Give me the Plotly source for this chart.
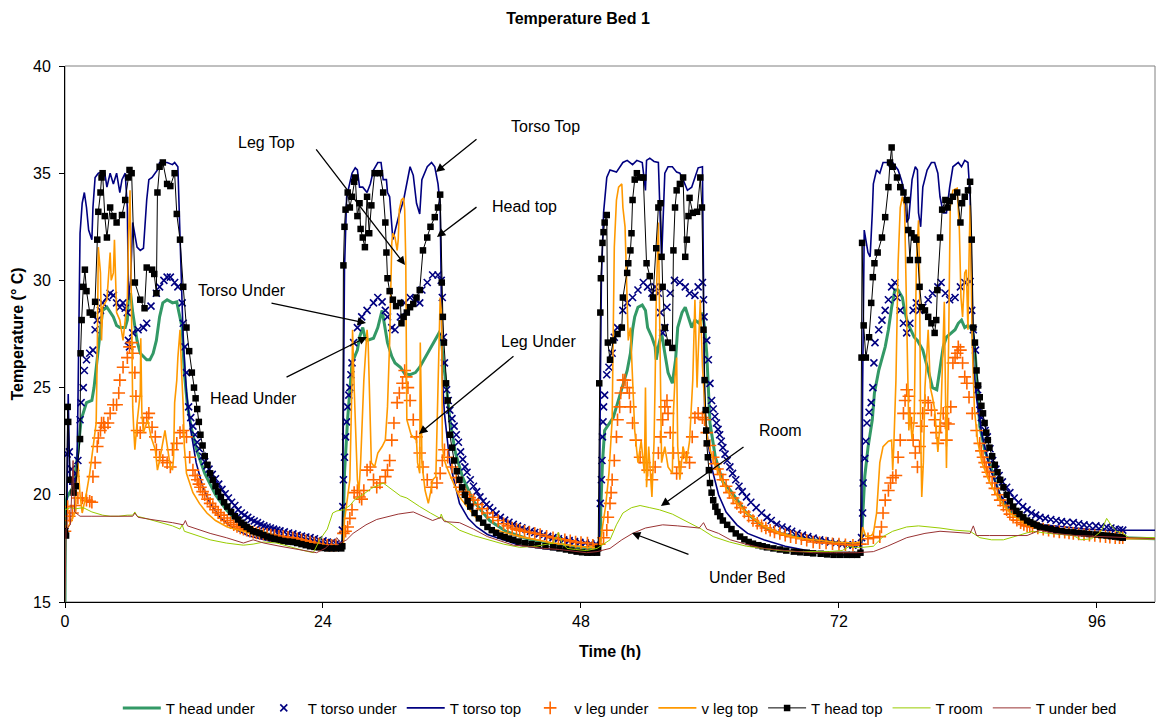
import plotly.graph_objects as go

# ---------------- data (time h, temperature °C) ----------------
HEAD_UNDER = [
    (0.0, 15.0), (0.05, 19.6), (0.2, 19.9), (0.8, 20.4), (1.2, 22.0), (1.5, 23.5), (2.0, 24.3), (2.5, 24.4),
    (2.7, 25.0), (3.0, 26.3), (3.3, 27.55), (3.5, 28.6), (3.9, 28.75), (4.2, 28.5), (4.5, 28.3), (4.8, 27.9),
    (5.1, 27.8), (5.6, 27.8), (5.8, 28.15), (5.9, 29.2), (6.1, 29.4), (6.3, 28.5), (6.7, 27.2), (7.0, 26.6),
    (7.6, 26.3), (7.9, 26.3), (8.2, 26.6), (8.5, 27.2), (8.8, 28.3), (9.1, 28.95), (9.5, 29.1), (10.0, 28.95),
    (10.4, 29.0), (10.6, 28.5), (10.9, 27.8), (11.1, 25.7), (11.4, 24.1), (11.8, 23.0), (12.3, 22.0), (13.0, 21.0),
    (14.0, 20.0), (15.0, 19.3), (16.0, 18.8), (17.5, 18.4), (19.0, 18.15), (21.0, 17.95), (23.0, 17.75), (25.0, 17.65),
    (25.8, 17.65), (25.85, 18.0), (26.0, 21.0), (26.3, 23.6), (26.7, 26.15), (27.2, 26.75), (27.4, 27.35), (27.7, 27.8),
    (27.9, 27.35), (28.1, 27.2), (28.7, 27.3), (29.1, 27.8), (29.5, 28.6), (29.8, 27.7), (30.0, 27.1), (30.4, 26.45),
    (30.7, 26.15), (31.2, 25.95), (31.6, 25.65), (32.1, 25.6), (32.6, 25.7), (33.0, 25.95), (33.5, 26.4), (34.0, 26.9),
    (34.4, 27.2), (34.8, 27.55), (35.0, 27.4), (35.2, 26.15), (35.5, 25.0), (35.8, 23.5), (36.3, 22.0), (37.0, 20.8),
    (38.0, 19.7), (39.5, 18.8), (41.0, 18.3), (43.0, 17.95), (45.5, 17.7), (48.0, 17.55), (49.7, 17.5),
    (49.8, 18.05), (49.85, 19.45), (50.0, 21.5), (50.2, 23.0), (50.7, 23.35), (51.0, 23.6), (51.3, 24.1), (51.8, 25.0),
    (52.3, 25.8), (52.6, 26.6), (52.8, 27.7), (53.0, 28.3), (53.3, 28.75), (53.7, 28.85), (54.0, 28.6), (54.2, 27.8),
    (54.6, 27.35), (54.9, 26.9), (55.0, 26.3), (55.2, 26.9), (55.5, 27.55), (55.8, 26.6), (56.1, 25.7), (56.5, 25.2),
    (56.8, 26.3), (57.0, 27.8), (57.4, 28.5), (57.7, 28.75), (58.0, 28.3), (58.3, 27.8), (58.6, 28.15), (59.0, 28.0),
    (59.3, 28.5), (59.5, 27.8), (59.7, 26.6), (59.85, 25.0), (60.0, 23.35), (60.5, 21.75), (61.2, 20.6), (61.9, 20.2),
    (63.4, 19.15), (65.0, 18.5), (66.5, 18.2), (69.6, 17.9), (72.0, 17.75), (74.0, 17.7),
    (74.1, 17.9), (74.4, 20.85), (74.7, 22.2), (75.1, 23.5), (75.3, 24.75), (75.7, 25.8), (76.0, 26.4), (76.3, 26.9),
    (76.6, 27.7), (76.9, 28.75), (77.2, 29.55), (77.5, 29.55), (77.9, 29.2), (78.1, 28.6), (78.4, 28.0), (78.8, 27.55),
    (79.0, 27.35), (79.3, 27.2), (79.8, 26.75), (80.3, 25.8), (80.7, 25.0), (81.1, 24.9), (81.4, 25.8), (81.7, 26.9),
    (82.0, 27.35), (82.5, 27.55), (82.8, 27.7), (83.1, 28.0), (83.4, 28.15), (83.7, 27.8), (84.0, 27.9), (84.4, 27.7),
    (84.7, 26.4), (85.1, 23.2), (85.6, 22.0), (86.0, 21.5), (87.0, 19.9), (88.0, 19.2), (89.0, 18.85), (90.7, 18.5),
    (93.0, 18.3), (96.0, 18.1), (98.4, 18.0), (101.4, 17.95),
]

TORSO_UNDER = [
    (0.0, 18.3), (0.2, 21.9), (0.4, 22.0), (0.6, 21.2), (0.8, 20.7), (1.0, 21.0), (1.2, 21.6), (1.4, 23.5),
    (1.5, 24.3), (1.7, 25.0), (1.8, 25.8), (2.0, 26.3), (2.3, 26.6), (2.6, 26.75), (2.8, 27.7), (3.0, 28.15),
    (3.3, 28.6), (3.5, 28.95), (3.9, 29.2), (4.2, 29.4), (4.5, 29.3), (4.8, 28.95), (5.1, 28.75), (5.4, 28.95),
    (5.6, 28.7), (5.8, 28.5), (5.9, 27.2), (6.0, 26.9), (6.3, 27.55), (6.8, 27.7), (7.3, 27.8), (7.6, 28.0),
    (8.0, 28.8), (8.5, 29.4), (8.8, 29.7), (9.2, 30.0), (9.5, 30.15), (9.8, 30.15), (10.2, 29.9), (10.5, 29.7),
    (10.9, 28.95), (11.0, 28.0), (11.15, 26.9), (11.3, 25.7),
    (11.5, 24.1), (11.7, 23.6), (11.9, 23.2), (12.1, 22.8), (12.3, 22.45), (12.5, 22.15), (12.8, 21.8), (13.0, 21.55),
    (13.2, 21.35), (13.4, 21.2), (13.7, 20.95), (14.0, 20.75), (14.3, 20.5), (14.6, 20.25), (14.9, 20.05), (15.2, 19.85),
    (15.5, 19.65), (15.8, 19.5), (16.1, 19.3), (16.4, 19.15), (16.7, 19.05), (17.0, 18.95), (17.3, 18.85), (17.6, 18.78),
    (17.9, 18.7), (18.2, 18.62), (18.5, 18.55), (18.8, 18.5), (19.1, 18.45), (19.4, 18.4), (19.7, 18.35), (20.0, 18.32),
    (20.4, 18.27), (20.8, 18.22), (21.2, 18.18), (21.6, 18.12), (22.0, 18.07), (22.4, 18.03), (22.8, 18.0), (23.2, 17.95),
    (23.6, 17.9), (24.0, 17.85), (24.4, 17.8), (24.8, 17.77), (25.2, 17.73), (25.5, 17.7),
    (25.8, 18.35), (25.85, 19.45), (25.9, 20.7), (26.0, 21.75), (26.1, 22.7), (26.2, 23.4), (26.3, 24.1), (26.4, 24.65),
    (26.5, 25.0), (26.6, 25.6), (26.7, 26.15), (26.85, 27.1), (27.2, 27.8), (27.6, 28.3), (28.1, 28.6), (28.7, 28.95),
    (29.1, 29.2), (29.5, 29.0), (29.8, 28.6), (30.0, 28.3), (30.4, 27.8), (30.7, 27.7), (31.2, 28.3), (31.6, 28.95),
    (32.1, 29.2), (32.6, 29.1), (33.0, 28.95), (33.2, 29.55), (33.7, 29.9), (34.2, 30.25), (34.7, 30.25), (35.0, 30.0),
    (35.1, 29.2), (35.2, 27.35), (35.3, 26.15),
    (35.5, 24.9), (35.65, 24.4), (35.8, 23.95), (36.0, 23.55), (36.2, 23.2), (36.4, 22.8), (36.6, 22.45), (36.8, 22.0),
    (37.0, 21.65), (37.2, 21.3), (37.4, 21.05), (37.7, 20.7), (38.0, 20.4), (38.3, 20.15), (38.6, 19.9), (38.9, 19.7),
    (39.2, 19.55), (39.5, 19.4), (39.8, 19.25), (40.1, 19.1), (40.5, 18.95), (40.9, 18.82), (41.3, 18.72), (41.7, 18.62),
    (42.1, 18.54), (42.5, 18.46), (42.9, 18.38), (43.3, 18.3), (43.7, 18.24), (44.1, 18.18), (44.5, 18.12), (44.9, 18.06),
    (45.4, 18.0), (45.9, 17.95), (46.4, 17.9), (46.9, 17.86), (47.4, 17.82), (47.9, 17.78), (48.4, 17.75), (48.9, 17.72),
    (49.4, 17.7),
    (49.8, 19.6), (49.9, 20.7), (49.95, 21.6), (50.0, 22.7), (50.05, 23.4), (50.1, 24.1), (50.2, 24.65), (50.4, 25.6),
    (50.6, 25.95), (50.9, 26.6), (51.1, 27.35), (51.4, 27.8), (51.9, 28.6), (52.3, 28.95), (52.8, 29.2), (53.3, 29.55),
    (53.8, 29.9), (54.2, 29.7), (54.6, 29.4), (54.9, 29.7), (55.2, 29.4), (55.4, 28.5), (55.6, 27.55), (55.8, 27.8),
    (56.0, 28.75), (56.3, 29.4), (56.7, 30.0), (57.2, 29.9), (57.7, 29.7), (58.1, 29.4), (58.6, 29.3), (58.9, 29.7),
    (59.3, 29.9), (59.4, 29.1), (59.45, 28.3), (59.7, 27.2), (59.85, 26.3), (60.0, 25.2), (60.15, 24.4),
    (60.3, 24.0), (60.45, 23.65), (60.6, 23.35), (60.75, 23.05), (60.9, 22.8), (61.05, 22.5), (61.2, 22.2), (61.4, 21.9),
    (61.6, 21.6), (61.85, 21.3), (62.1, 21.0), (62.4, 20.7), (62.7, 20.4), (63.0, 20.15), (63.4, 19.9), (63.8, 19.65),
    (64.3, 19.4), (64.8, 19.15), (65.3, 18.95), (65.7, 18.8), (66.2, 18.62), (66.7, 18.5), (67.2, 18.4), (67.6, 18.3),
    (68.1, 18.2), (68.6, 18.12), (69.1, 18.05), (69.6, 17.98), (70.2, 17.9), (70.7, 17.85), (71.2, 17.8), (71.7, 17.75),
    (72.3, 17.7), (72.8, 17.67), (73.3, 17.65), (73.8, 17.67),
    (74.1, 18.0), (74.2, 19.15), (74.25, 20.55), (74.4, 21.7), (74.5, 22.5), (74.6, 23.35), (74.8, 23.85), (75.0, 24.3),
    (75.15, 25.0), (75.25, 26.15), (75.35, 27.1), (75.7, 27.7), (76.0, 28.15), (76.3, 28.6), (76.6, 29.1), (76.9, 29.7),
    (77.2, 29.9), (77.4, 29.2), (77.7, 28.6), (78.0, 28.0), (78.3, 27.55), (78.6, 28.0), (78.9, 28.6), (79.2, 28.95),
    (79.5, 28.6), (79.8, 28.75), (80.3, 29.1), (80.7, 29.4), (81.2, 29.7), (81.5, 29.9), (81.9, 29.4), (82.3, 29.1),
    (82.8, 29.2), (83.3, 29.7), (83.7, 29.9), (84.2, 29.95), (84.35, 28.6), (84.5, 27.7), (84.7, 26.75), (84.9, 24.9),
    (85.1, 23.95), (85.25, 23.6), (85.4, 23.3), (85.6, 23.0), (85.8, 22.7), (86.05, 22.15), (86.3, 21.6), (86.6, 21.2),
    (86.9, 20.9), (87.2, 20.6), (87.6, 20.35), (87.9, 20.1), (88.3, 19.85), (88.7, 19.65), (89.1, 19.45), (89.5, 19.3),
    (89.9, 19.15), (90.3, 19.05), (90.7, 18.95), (91.2, 18.9), (91.7, 18.85), (92.2, 18.8), (92.7, 18.75), (93.2, 18.72),
    (93.8, 18.7), (94.3, 18.65), (94.8, 18.6), (95.3, 18.57), (95.9, 18.55), (96.4, 18.52), (96.9, 18.5), (97.3, 18.45),
    (97.7, 18.4), (98.1, 18.37), (98.4, 18.35),
]

TORSO_TOP = [
    (0.0, 18.2), (0.15, 18.3), (0.3, 24.7), (0.45, 20.5), (0.9, 20.5), (1.1, 21.0), (1.2, 24.1), (1.4, 32.2),
    (1.6, 33.6), (1.8, 34.1), (2.0, 33.4), (2.2, 32.35), (2.5, 31.9), (2.6, 33.4), (2.8, 34.8), (3.1, 35.0),
    (3.4, 35.05), (3.7, 35.0), (3.9, 34.35), (4.2, 35.0), (4.5, 34.5), (4.8, 35.0), (5.1, 34.1), (5.3, 34.7),
    (5.6, 35.0), (5.8, 33.4), (5.9, 29.1), (6.1, 30.0), (6.3, 32.7), (6.7, 31.55), (7.0, 31.4), (7.3, 31.5),
    (7.6, 33.75), (7.8, 34.7), (8.1, 34.8), (8.6, 35.15), (8.8, 35.5), (9.5, 35.5), (10.0, 35.4), (10.2, 35.5),
    (10.5, 35.3), (10.7, 31.9), (10.85, 29.55), (11.0, 27.2), (11.3, 24.8), (11.7, 23.0), (12.2, 21.5), (12.8, 20.4),
    (13.5, 19.6), (14.5, 18.9), (15.5, 18.5), (17.0, 18.1), (19.0, 17.85), (21.0, 17.7), (23.0, 17.55), (25.0, 17.45),
    (25.7, 17.5),
    (25.8, 17.6), (25.9, 25.0), (26.0, 30.5), (26.2, 33.9), (26.7, 35.0), (27.0, 35.25), (27.2, 35.15), (27.4, 34.35),
    (27.7, 34.35), (28.1, 34.1), (28.4, 34.5), (28.7, 35.15), (29.1, 35.5), (29.4, 35.5), (29.6, 34.7), (29.9, 34.7),
    (30.0, 34.1), (30.2, 33.9), (30.5, 31.9), (30.8, 32.5), (31.1, 33.1), (31.5, 33.75), (31.9, 34.8), (32.1, 35.3),
    (32.4, 34.9), (32.7, 33.6), (33.0, 33.1), (33.2, 34.7), (33.7, 35.3), (34.1, 35.5), (34.4, 35.3), (34.7, 34.5),
    (34.9, 33.5), (35.0, 30.15), (35.1, 25.5), (35.3, 23.8), (35.8, 21.5), (36.7, 19.6), (37.5, 18.9), (38.3, 18.5),
    (39.3, 18.15), (40.2, 18.0), (42.3, 17.65), (44.5, 17.5), (46.5, 17.4), (48.5, 17.3), (49.6, 17.3),
    (49.7, 17.4), (49.8, 25.0), (49.9, 30.0), (50.1, 33.15), (50.4, 34.8), (50.7, 35.15), (51.3, 35.05), (51.9, 35.5),
    (52.3, 35.6), (52.8, 35.4), (53.2, 35.6), (53.7, 35.5), (54.0, 34.2), (54.1, 35.6), (54.4, 35.7), (54.8, 35.55),
    (55.2, 35.5), (55.5, 30.95), (55.7, 33.5), (55.8, 35.0), (56.1, 35.3), (56.5, 35.3), (56.9, 35.05), (57.2, 35.0),
    (57.5, 34.7), (57.9, 34.2), (58.3, 34.35), (58.6, 34.8), (58.9, 35.25), (59.3, 35.3), (59.4, 30.35), (59.5, 24.1),
    (59.8, 22.5), (60.2, 21.2), (60.8, 20.0), (61.5, 19.2), (62.5, 18.6), (63.5, 18.2), (65.0, 17.9), (67.0, 17.6),
    (69.5, 17.35), (72.0, 17.2), (74.0, 17.2),
    (74.1, 17.3), (74.2, 25.0), (74.35, 32.35), (74.7, 31.3), (74.9, 31.1), (75.1, 33.15), (75.2, 34.5), (75.5, 35.15),
    (75.8, 35.0), (76.1, 35.5), (76.5, 35.5), (76.7, 35.3), (77.0, 35.5), (77.5, 35.15), (77.8, 34.7), (78.1, 34.1),
    (78.3, 32.7), (78.5, 32.9), (78.8, 34.7), (79.1, 35.3), (79.3, 35.15), (79.4, 33.15), (79.6, 32.5), (79.8, 34.35),
    (80.2, 35.15), (80.6, 35.5), (80.9, 35.5), (81.2, 35.0), (81.4, 33.9), (81.7, 33.15), (82.0, 33.15), (82.3, 34.35),
    (82.6, 35.3), (83.1, 35.5), (83.4, 35.3), (83.7, 35.6), (84.0, 35.5), (84.2, 33.9), (84.4, 28.0), (84.5, 26.15),
    (84.8, 24.5), (85.3, 22.8), (86.0, 21.3), (87.0, 20.0), (88.0, 19.3), (89.5, 18.8), (91.0, 18.6), (93.0, 18.5),
    (95.0, 18.4), (97.0, 18.35), (98.4, 18.35), (101.4, 18.35),
]

LEG_UNDER = [
    (0.0, 18.3), (0.15, 18.8), (0.25, 19.45), (0.4, 19.0), (0.7, 19.15), (1.0, 19.5), (1.2, 19.85), (1.6, 19.85),
    (2.0, 19.75), (2.3, 19.7), (2.5, 19.65), (2.6, 20.85), (2.8, 21.5), (3.0, 22.25), (3.1, 22.65), (3.3, 23.0),
    (3.4, 23.35), (3.6, 23.35), (3.7, 23.15), (4.0, 23.35), (4.2, 23.8), (4.5, 24.2), (4.8, 24.2), (5.0, 24.75),
    (5.1, 25.35), (5.4, 25.95), (5.8, 26.4), (6.0, 26.9), (6.2, 27.1), (6.3, 26.6), (6.5, 25.7), (6.6, 24.6),
    (6.7, 23.0), (7.0, 22.9), (7.3, 23.35), (7.6, 23.6), (7.8, 23.8), (8.1, 23.15), (8.4, 22.7), (8.5, 22.1),
    (8.8, 21.75), (9.1, 21.6), (9.5, 21.5), (9.8, 21.3), (10.0, 22.1), (10.4, 22.4), (10.7, 22.9), (11.0, 23.0),
    (11.3, 22.7), (11.6, 21.75),
    (11.9, 21.15), (12.1, 20.9), (12.3, 20.7), (12.45, 20.5), (12.6, 20.35), (12.8, 20.15), (13.0, 20.0), (13.25, 19.8),
    (13.5, 19.6), (13.75, 19.45), (14.0, 19.3), (14.25, 19.17), (14.5, 19.05), (14.8, 18.92), (15.1, 18.8), (15.4, 18.7),
    (15.7, 18.6), (16.0, 18.52), (16.3, 18.45), (16.6, 18.4), (16.9, 18.35), (17.2, 18.3), (17.5, 18.25), (17.8, 18.22),
    (18.1, 18.2), (18.45, 18.17), (18.8, 18.15), (19.15, 18.12), (19.5, 18.1), (19.9, 18.07), (20.3, 18.05), (20.75, 18.02),
    (21.2, 18.0), (21.6, 17.95), (22.0, 17.9), (22.4, 17.85), (22.8, 17.8), (23.2, 17.75), (23.6, 17.7), (24.0, 17.67),
    (24.4, 17.65), (24.8, 17.65), (25.2, 17.65),
    (25.9, 18.2), (26.1, 18.3), (26.3, 18.5), (26.5, 18.9), (26.7, 19.3), (26.9, 20.1), (27.2, 20.2), (27.4, 19.9),
    (27.6, 19.8), (27.8, 20.2), (28.1, 21.15), (28.4, 21.3), (28.7, 20.7), (29.0, 20.35), (29.3, 20.55), (29.8, 20.85),
    (30.0, 21.15), (30.2, 21.6), (30.4, 22.55), (30.6, 23.35), (30.9, 24.3), (31.1, 24.75), (31.4, 25.2), (31.6, 25.8),
    (31.75, 25.5), (31.9, 25.0), (32.1, 24.4), (32.4, 23.5), (32.7, 22.7), (33.0, 21.95), (33.3, 21.3), (33.7, 20.7),
    (34.1, 20.35), (34.6, 20.55), (34.9, 21.0), (35.1, 21.6), (35.3, 22.1), (35.6, 21.75), (36.0, 21.3), (36.4, 20.8),
    (36.7, 20.35), (37.0, 20.15), (37.3, 20.0), (37.65, 19.87), (38.0, 19.75), (38.4, 19.55), (38.8, 19.35), (39.3, 19.15),
    (39.8, 18.95), (40.3, 18.8), (40.8, 18.65), (41.2, 18.55), (41.6, 18.45), (42.0, 18.4), (42.3, 18.35), (42.75, 18.3),
    (43.2, 18.25), (43.7, 18.2), (44.2, 18.15), (44.8, 18.07), (45.4, 18.0), (45.9, 17.95), (46.5, 17.9), (47.0, 17.85),
    (47.5, 17.8), (48.0, 17.77), (48.6, 17.75), (49.1, 17.65), (49.7, 17.7),
    (50.1, 18.0), (50.4, 18.35), (50.5, 18.95), (50.7, 19.6), (50.8, 20.1), (50.9, 20.7), (51.1, 21.6), (51.3, 22.7),
    (51.4, 23.5), (51.6, 24.1), (51.7, 24.75), (51.9, 25.35), (52.1, 25.35), (52.3, 25.0), (52.5, 24.75), (52.6, 24.1),
    (52.8, 23.35), (53.1, 22.55), (53.5, 21.75), (53.9, 21.5), (54.2, 21.15), (54.6, 20.7), (54.9, 21.3), (55.2, 21.95),
    (55.4, 22.7), (55.6, 23.5), (55.8, 24.1), (56.0, 24.4), (56.1, 23.8), (56.3, 22.9), (56.6, 21.95), (56.9, 21.0),
    (57.2, 21.3), (57.5, 21.95), (57.8, 21.75), (58.1, 21.5), (58.35, 22.7), (58.6, 23.6), (58.9, 23.8), (59.3, 23.6),
    (59.5, 23.5), (59.7, 22.9), (60.0, 22.3),
    (60.3, 21.75), (60.5, 21.45), (60.7, 21.2), (60.95, 20.95), (61.2, 20.7), (61.5, 20.4), (61.8, 20.1), (62.15, 19.85),
    (62.5, 19.6), (62.85, 19.4), (63.2, 19.2), (63.6, 19.0), (64.0, 18.8), (64.4, 18.67), (64.8, 18.55), (65.2, 18.45),
    (65.6, 18.35), (66.0, 18.27), (66.5, 18.2), (67.0, 18.12), (67.5, 18.05), (68.0, 18.0), (68.5, 17.95), (69.0, 17.88),
    (69.6, 17.8), (70.2, 17.77), (70.8, 17.75), (71.4, 17.72), (72.0, 17.7), (72.6, 17.67), (73.3, 17.65), (74.0, 17.7),
    (74.7, 17.95), (75.2, 18.0), (75.8, 18.05), (75.95, 18.5), (76.1, 19.15), (76.3, 19.75), (76.6, 20.2), (76.8, 20.55),
    (77.0, 20.8), (77.3, 20.9), (77.5, 21.75), (77.7, 22.55), (78.0, 23.8), (78.15, 24.4), (78.3, 24.9), (78.5, 24.6),
    (78.6, 23.8), (78.75, 23.35), (78.9, 22.55), (79.1, 21.95), (79.3, 21.3), (79.5, 22.25), (79.7, 23.2), (79.8, 23.8),
    (80.0, 24.4), (80.3, 24.3), (80.6, 23.95), (80.9, 23.5), (81.05, 22.9), (81.2, 22.4), (81.45, 23.2), (81.7, 23.8),
    (81.9, 23.35), (82.0, 22.55), (82.2, 23.3), (82.4, 24.1), (82.6, 26.15), (82.8, 26.4), (83.0, 26.6), (83.1, 26.9),
    (83.3, 26.75), (83.5, 26.15), (83.7, 25.5), (83.9, 25.2), (84.1, 24.55), (84.4, 23.8), (84.8, 23.0),
    (85.1, 22.4), (85.25, 22.05), (85.4, 21.75), (85.55, 21.5), (85.7, 21.3), (85.85, 21.05), (86.0, 20.85), (86.25, 20.55),
    (86.5, 20.3), (86.75, 20.0), (87.0, 19.75), (87.3, 19.5), (87.6, 19.3), (87.9, 19.1), (88.2, 18.95), (88.55, 18.82),
    (88.9, 18.7), (89.2, 18.62), (89.5, 18.55), (89.75, 18.52), (90.0, 18.5), (90.5, 18.45), (91.0, 18.4), (91.5, 18.35),
    (92.0, 18.3), (92.5, 18.27), (93.0, 18.25), (93.4, 18.22), (93.8, 18.2), (94.3, 18.17), (94.8, 18.15), (95.3, 18.12),
    (95.8, 18.1), (96.3, 18.07), (96.8, 18.05), (97.2, 18.02), (97.7, 18.0), (98.1, 18.0), (98.4, 18.0),
]

LEG_TOP = [
    (0.0, 18.3), (0.3, 18.5), (0.5, 18.7), (0.9, 19.15), (1.2, 21.5), (1.4, 20.0), (1.6, 19.15), (2.0, 20.1),
    (2.3, 21.0), (2.6, 22.25), (2.9, 23.35), (3.0, 26.6), (3.1, 31.55), (3.3, 30.35), (3.4, 27.2), (3.5, 28.75),
    (3.9, 29.1), (4.2, 31.3), (4.3, 30.0), (4.5, 30.35), (4.6, 31.9), (4.8, 28.5), (5.1, 28.15), (5.4, 27.2),
    (5.8, 29.1), (5.9, 31.9), (6.05, 34.2), (6.15, 30.0), (6.2, 27.8), (6.3, 24.1), (6.4, 23.0), (6.5, 22.1),
    (6.7, 23.35), (7.0, 24.75), (7.05, 27.3), (7.15, 23.8), (7.3, 22.9), (7.7, 23.5), (8.0, 22.7), (8.4, 22.1),
    (8.6, 21.15), (8.8, 21.6), (9.3, 23.0), (9.5, 22.25), (9.8, 21.3), (10.0, 21.15), (10.1, 21.75), (10.2, 24.3),
    (10.4, 25.35), (10.5, 26.4), (10.7, 27.7), (10.85, 25.7), (11.0, 24.1), (11.1, 22.25), (11.3, 21.0), (11.9, 20.1),
    (12.5, 19.6), (13.2, 19.15), (14.0, 18.8), (15.1, 18.5), (16.5, 18.3), (18.1, 18.1), (19.5, 17.95), (21.2, 17.8),
    (23.0, 17.65), (24.4, 17.55), (25.8, 17.55),
    (25.9, 17.7), (26.0, 18.8), (26.3, 19.9), (26.5, 20.7), (26.7, 25.35), (26.75, 27.7), (26.9, 25.0), (27.0, 23.8),
    (27.2, 20.7), (27.35, 20.2), (27.5, 21.5), (27.8, 25.35), (28.1, 27.7), (28.2, 27.1), (28.4, 23.5), (28.5, 21.5),
    (28.8, 21.3), (29.1, 21.95), (29.5, 22.25), (29.8, 22.55), (30.0, 24.1), (30.1, 25.35), (30.2, 27.1), (30.4, 31.75),
    (30.5, 32.2), (30.7, 32.0), (30.9, 31.4), (31.0, 31.9), (31.1, 33.3), (31.3, 33.75), (31.5, 33.85), (31.6, 33.3),
    (31.7, 30.95), (31.8, 23.5), (32.2, 22.8), (32.7, 22.55), (32.8, 21.5), (33.0, 21.0), (33.05, 27.1), (33.15, 24.0),
    (33.2, 21.5), (33.5, 20.2), (33.7, 19.75), (33.8, 19.6), (34.0, 20.1), (34.2, 20.7), (34.5, 20.85), (34.6, 23.0),
    (34.7, 23.8), (34.9, 29.2), (35.05, 28.3), (35.1, 22.25), (35.3, 21.6), (35.5, 21.3), (36.0, 20.7), (36.7, 19.9),
    (37.4, 19.45), (38.3, 18.9), (39.3, 18.5), (40.8, 18.25), (42.3, 18.05), (44.0, 17.9), (45.4, 17.75), (47.0, 17.65),
    (48.6, 17.55), (49.8, 17.55),
    (50.0, 18.5), (50.3, 19.5), (50.6, 21.0), (50.9, 23.5), (51.0, 27.2), (51.1, 31.55), (51.3, 33.75), (51.5, 34.35),
    (51.8, 34.5), (51.9, 33.4), (52.1, 32.5), (52.3, 28.75), (52.4, 27.2), (52.6, 27.8), (52.8, 25.7), (53.0, 23.0),
    (53.3, 21.5), (53.6, 22.5), (53.9, 21.0), (54.0, 25.0), (54.1, 20.35), (54.3, 22.25), (54.6, 19.9), (54.8, 22.5),
    (54.9, 25.35), (55.0, 29.0), (55.2, 32.7), (55.3, 29.5), (55.4, 24.9), (55.5, 21.5), (55.8, 22.25), (56.1, 21.3),
    (56.5, 21.0), (56.6, 23.8), (56.75, 25.5), (56.9, 26.4), (57.0, 22.25), (57.2, 20.7), (57.5, 22.25), (57.8, 21.5),
    (58.1, 22.5), (58.4, 25.35), (58.6, 29.1), (58.8, 25.0), (58.9, 26.5), (59.1, 29.1), (59.3, 26.0), (59.5, 24.1),
    (59.6, 23.5), (59.8, 22.5), (60.3, 21.6), (61.0, 20.8), (61.6, 20.2), (62.5, 19.6), (63.4, 19.15), (65.0, 18.55),
    (66.5, 18.2), (68.0, 18.0), (69.6, 17.9), (71.5, 17.8), (73.3, 17.75), (74.0, 17.8),
    (74.1, 18.0), (74.2, 18.5), (74.5, 18.05), (75.0, 18.1), (75.2, 18.2), (75.5, 19.15), (75.8, 21.5), (76.1, 22.25),
    (76.6, 22.5), (76.9, 22.55), (77.0, 21.15), (77.1, 22.25), (77.3, 25.35), (77.5, 30.8), (77.7, 33.4), (77.9, 33.9),
    (78.1, 33.5), (78.2, 30.8), (78.4, 25.0), (78.5, 23.0), (78.6, 23.8), (78.8, 22.6), (79.0, 23.5), (79.2, 30.8),
    (79.4, 32.8), (79.5, 30.0), (79.6, 23.0), (79.7, 19.9), (79.85, 21.5), (80.0, 25.0), (80.3, 27.7), (80.5, 25.0),
    (80.7, 24.55), (80.9, 24.0), (81.2, 22.0), (81.5, 24.0), (81.8, 29.0), (82.0, 21.25), (82.2, 27.0), (82.35, 33.4),
    (82.6, 34.2), (83.0, 34.3), (83.2, 32.35), (83.35, 29.2), (83.5, 28.3), (83.7, 30.35), (83.85, 30.5), (84.0, 27.7),
    (84.1, 31.0), (84.2, 33.5), (84.4, 27.0), (84.6, 24.0), (84.9, 22.5), (85.3, 21.5), (86.0, 20.6), (87.0, 19.7),
    (88.0, 19.1), (89.5, 18.6), (91.0, 18.35), (93.0, 18.2), (95.5, 18.05), (98.4, 17.95), (101.4, 17.95),
]

HEAD_TOP = [
    (0.0, 18.3), (0.1, 18.1), (0.25, 24.1), (0.3, 23.4), (0.5, 20.7), (0.8, 20.1), (1.0, 20.4), (1.4, 22.6),
    (1.45, 26.6), (1.55, 28.15), (1.7, 29.7), (1.85, 30.5), (2.0, 29.5), (2.3, 28.5), (2.6, 28.4), (2.8, 29.0),
    (3.0, 31.9), (3.1, 33.2), (3.3, 34.1), (3.4, 34.8), (3.5, 35.0), (3.7, 33.0), (3.9, 32.0), (4.2, 33.4),
    (4.5, 33.0), (4.8, 32.7), (5.3, 33.05), (5.6, 33.75), (5.9, 34.8), (6.0, 35.15), (6.2, 35.0), (6.5, 29.9),
    (7.0, 29.1), (7.4, 28.7), (7.6, 30.6), (8.1, 30.5), (8.3, 30.3), (8.5, 29.4), (8.6, 34.1), (8.8, 35.3),
    (9.1, 35.5), (9.5, 34.5), (9.8, 34.4), (10.2, 35.0), (10.4, 33.1), (10.7, 31.9), (11.0, 29.7), (11.3, 27.8),
    (11.55, 26.7), (11.8, 25.7), (12.0, 25.0), (12.15, 24.5), (12.3, 24.0), (12.45, 23.4), (12.6, 22.8), (12.8, 22.3),
    (13.0, 21.8), (13.25, 21.4), (13.5, 21.0), (13.75, 20.7), (14.0, 20.4), (14.25, 20.15), (14.5, 19.9), (14.8, 19.65),
    (15.1, 19.45), (15.45, 19.2), (15.8, 19.0), (16.1, 18.85), (16.4, 18.7), (16.65, 18.6), (16.9, 18.5), (17.2, 18.4),
    (17.5, 18.3), (17.8, 18.25), (18.1, 18.2), (18.45, 18.12), (18.8, 18.05), (19.15, 18.0), (19.5, 17.95), (19.9, 17.9),
    (20.3, 17.85), (20.75, 17.82), (21.2, 17.8), (21.6, 17.75), (22.0, 17.7), (22.4, 17.65), (22.8, 17.6), (23.2, 17.57),
    (23.6, 17.55), (24.0, 17.52), (24.4, 17.5), (24.8, 17.5), (25.2, 17.5), (25.7, 17.5),
    (25.8, 17.6), (25.9, 30.7), (26.0, 32.5), (26.1, 33.3), (26.3, 34.1), (26.5, 33.4), (26.7, 33.9), (26.9, 34.6),
    (27.0, 34.8), (27.2, 33.0), (27.4, 33.6), (27.5, 32.4), (27.7, 32.0), (27.9, 31.55), (28.1, 33.9), (28.3, 32.2),
    (28.5, 33.5), (28.8, 35.0), (29.3, 35.0), (29.6, 34.1), (29.8, 32.7), (29.9, 31.3), (30.0, 30.1), (30.2, 29.5),
    (30.5, 29.1), (30.8, 28.8), (31.2, 28.95), (31.3, 28.0), (31.5, 28.3), (31.8, 28.5), (32.1, 28.75), (32.4, 28.9),
    (32.7, 29.2), (33.0, 29.55), (33.3, 31.4), (33.7, 32.0), (34.0, 32.5), (34.4, 32.95), (34.7, 33.4), (34.9, 34.0),
    (35.05, 29.9), (35.15, 28.3), (35.25, 27.1), (35.45, 25.2), (35.6, 24.4),
    (35.8, 22.8), (36.0, 22.2), (36.2, 21.6), (36.45, 21.1), (36.7, 20.7), (36.95, 20.35), (37.2, 20.0), (37.45, 19.7),
    (37.7, 19.45), (38.1, 19.15), (38.5, 18.9), (38.9, 18.7), (39.3, 18.5), (39.7, 18.35), (40.1, 18.22), (40.5, 18.1),
    (40.9, 18.03), (41.3, 17.96), (41.7, 17.9), (42.2, 17.82), (42.8, 17.75), (43.4, 17.7), (44.0, 17.65), (44.7, 17.6),
    (45.4, 17.55), (46.0, 17.5), (46.6, 17.45), (47.1, 17.4), (47.6, 17.35), (48.1, 17.32), (48.6, 17.3), (49.0, 17.3),
    (49.5, 17.3),
    (49.6, 17.5), (49.7, 25.2), (49.8, 28.5), (49.85, 30.1), (49.9, 31.0), (50.0, 31.75), (50.1, 32.25), (50.2, 32.7),
    (50.4, 33.05), (50.5, 27.1), (50.7, 26.3), (51.0, 27.2), (51.4, 27.5), (51.8, 27.8), (51.9, 29.2), (52.3, 30.35),
    (52.4, 30.8), (52.6, 31.4), (52.7, 32.2), (52.8, 33.75), (53.0, 34.7), (53.2, 35.0), (53.5, 34.8), (53.8, 34.8),
    (54.1, 30.8), (54.4, 30.2), (54.7, 29.2), (55.0, 31.5), (55.2, 33.4), (55.4, 33.6), (55.5, 31.1), (55.6, 29.7),
    (55.8, 27.8), (56.1, 27.1), (56.5, 26.85), (56.6, 31.4), (56.75, 33.4), (56.9, 34.2), (57.2, 34.5), (57.5, 34.8),
    (57.7, 31.1), (57.85, 31.9), (58.0, 33.0), (58.1, 33.85), (58.4, 33.15), (58.8, 33.2), (59.1, 34.8), (59.25, 33.4),
    (59.4, 27.7), (59.5, 25.35), (59.6, 23.95), (59.65, 23.0), (59.7, 22.4), (59.8, 21.75), (59.9, 21.15),
    (60.0, 20.55), (60.15, 20.1), (60.3, 19.75), (60.5, 19.45), (60.7, 19.2), (60.95, 19.0), (61.2, 18.8), (61.6, 18.6),
    (62.0, 18.4), (62.4, 18.2), (62.8, 18.05), (63.2, 17.92), (63.6, 17.8), (64.0, 17.72), (64.5, 17.65), (64.9, 17.6),
    (65.3, 17.55), (65.9, 17.5), (66.5, 17.45), (67.1, 17.4), (67.8, 17.35), (68.4, 17.32), (69.0, 17.3), (69.6, 17.27),
    (70.3, 17.25), (70.9, 17.22), (71.5, 17.2), (72.1, 17.2), (72.7, 17.2), (73.2, 17.2), (73.7, 17.2),
    (74.0, 17.3), (74.1, 26.4), (74.15, 31.75), (74.3, 27.9), (74.5, 26.4), (74.8, 27.35), (75.0, 28.95), (75.15, 30.15),
    (75.3, 30.8), (75.6, 31.3), (76.0, 32.0), (76.3, 32.95), (76.6, 34.35), (76.75, 35.5), (76.9, 36.2), (77.0, 35.3),
    (77.4, 34.8), (77.7, 34.35), (78.0, 34.1), (78.3, 33.75), (78.45, 32.35), (78.6, 30.95), (78.75, 32.2), (79.0, 32.0),
    (79.2, 31.9), (79.35, 30.95), (79.5, 29.7), (79.7, 28.75), (80.0, 28.6), (80.3, 28.3), (80.6, 28.0), (80.9, 27.55),
    (81.05, 28.15), (81.15, 29.55), (81.4, 32.0), (81.6, 33.3), (81.9, 33.75), (82.1, 33.4), (82.3, 33.7), (82.6, 33.9),
    (83.0, 34.1), (83.3, 32.7), (83.45, 33.6), (83.7, 33.9), (84.0, 34.2), (84.2, 34.6), (84.35, 31.9), (84.5, 27.8),
    (84.65, 27.1), (84.8, 25.8), (84.95, 25.1),
    (85.1, 24.55), (85.25, 24.15), (85.4, 23.8), (85.55, 23.35), (85.7, 22.9), (85.85, 22.55), (86.0, 22.2), (86.25, 21.8),
    (86.5, 21.4), (86.75, 21.05), (87.0, 20.7), (87.3, 20.35), (87.6, 20.0), (87.9, 19.7), (88.2, 19.45), (88.5, 19.25),
    (88.8, 19.1), (89.15, 18.95), (89.5, 18.8), (89.8, 18.72), (90.1, 18.65), (90.4, 18.57), (90.7, 18.5), (91.2, 18.45),
    (91.7, 18.4), (92.2, 18.35), (92.7, 18.3), (93.2, 18.27), (93.8, 18.25), (94.3, 18.22), (94.8, 18.2), (95.3, 18.17),
    (95.9, 18.15), (96.4, 18.12), (96.9, 18.1), (97.3, 18.07), (97.7, 18.05), (98.1, 18.02), (98.4, 18.0),
]

ROOM = [
    (0.0, 19.3), (0.5, 19.4), (1.0, 19.35), (1.7, 19.4), (2.5, 19.2), (3.5, 19.05), (4.2, 19.0), (5.0, 19.0),
    (5.8, 19.05), (6.3, 19.05), (6.5, 19.2), (6.7, 19.0), (7.5, 18.9), (8.8, 18.7), (10.0, 18.55), (10.7, 18.4),
    (10.9, 18.6), (11.1, 18.3), (12.3, 18.1), (13.5, 17.9), (15.0, 17.75), (16.6, 17.65), (17.5, 17.7), (18.5, 17.8),
    (19.7, 17.75), (21.0, 17.55), (22.2, 17.4), (23.1, 17.3), (23.7, 17.9), (24.4, 18.4), (24.9, 19.15), (25.3, 19.25),
    (25.9, 19.3), (26.5, 19.5), (27.0, 19.8), (27.7, 20.0), (28.5, 20.3), (29.6, 20.55), (30.5, 20.2), (31.2, 19.95),
    (31.8, 19.85), (32.3, 19.7), (33.0, 19.45), (34.0, 19.15), (34.9, 18.9), (35.0, 19.1), (35.2, 18.85), (36.0, 18.6),
    (36.7, 18.35), (38.0, 18.1), (39.3, 17.9), (40.8, 17.7), (42.3, 17.55), (43.8, 17.6), (45.4, 17.75), (45.9, 18.25),
    (46.2, 17.8), (46.7, 17.5), (47.5, 17.45), (48.5, 17.4), (49.5, 17.5), (50.2, 17.75), (50.7, 17.9), (51.3, 18.6),
    (51.9, 19.15), (52.7, 19.4), (53.5, 19.5), (54.4, 19.4), (55.3, 19.3), (56.5, 19.1), (58.1, 18.7), (59.2, 18.4),
    (60.3, 18.05), (61.8, 17.8), (63.4, 17.6), (65.0, 17.5), (66.5, 17.4), (68.0, 17.35), (69.6, 17.35), (71.0, 17.35),
    (72.3, 17.4), (73.0, 17.6), (73.3, 17.55), (74.2, 17.55), (75.2, 17.6), (76.1, 18.05), (77.0, 18.3), (78.3, 18.5),
    (79.4, 18.55), (80.5, 18.5), (81.4, 18.45), (82.8, 18.35), (84.2, 18.3), (85.1, 18.0), (86.2, 17.9), (87.3, 17.9),
    (88.7, 18.1), (90.0, 18.3), (91.5, 18.2), (93.0, 18.15), (93.8, 18.1), (94.5, 17.9), (95.5, 17.95), (96.4, 18.3),
    (96.9, 18.9), (97.3, 18.6), (97.8, 18.3), (98.4, 18.2), (99.0, 18.0), (101.4, 18.0),
]

UNDER_BED = [
    (0.0, 15.0), (0.1, 18.4), (0.5, 18.6), (0.75, 21.6), (0.9, 19.2), (1.4, 19.0), (2.5, 19.0), (4.2, 19.0),
    (5.5, 19.0), (6.3, 19.0), (6.5, 19.15), (6.8, 18.95), (8.0, 18.85), (8.8, 18.8), (10.0, 18.7), (11.0, 18.6),
    (11.2, 18.8), (11.4, 18.55), (12.5, 18.35), (13.5, 18.2), (15.0, 18.0), (16.6, 17.75), (17.5, 17.9), (18.5, 17.75),
    (20.0, 17.6), (21.2, 17.5), (22.5, 17.4), (23.4, 17.3), (24.2, 17.5), (25.3, 18.0), (25.6, 17.75), (26.2, 17.9),
    (26.8, 18.2), (28.0, 18.6), (29.0, 18.85), (29.9, 18.95), (31.0, 19.1), (32.4, 19.2), (33.3, 19.0), (34.2, 18.8),
    (35.0, 18.95), (35.3, 18.75), (36.7, 18.7), (38.0, 18.4), (39.3, 18.05), (40.5, 17.85), (41.7, 17.65), (43.0, 17.6),
    (44.5, 17.5), (46.0, 17.45), (47.5, 17.35), (48.5, 17.3), (49.5, 17.35), (50.7, 17.5), (51.8, 17.9), (52.8, 18.2),
    (54.0, 18.45), (55.6, 18.6), (57.0, 18.55), (58.3, 18.5), (59.0, 18.45), (59.4, 18.7), (59.7, 18.4), (60.8, 18.2),
    (61.9, 17.9), (63.3, 17.7), (65.0, 17.5), (67.0, 17.4), (69.6, 17.3), (71.5, 17.3), (73.7, 17.3), (75.2, 17.35),
    (76.5, 17.6), (78.3, 18.0), (80.0, 18.2), (81.4, 18.3), (83.0, 18.25), (84.2, 18.2), (84.5, 18.55), (84.8, 18.1),
    (86.0, 18.1), (88.0, 18.1), (89.5, 18.1), (90.7, 18.35), (92.0, 18.2), (94.0, 18.1), (96.0, 18.05), (98.4, 18.0),
    (101.4, 17.95),
]

X_TICKS = [0, 24, 48, 72, 96]
Y_TICKS = [15, 20, 25, 30, 35, 40]

# (label, text position (t, T), arrow tail (t, T), arrow head (t, T))
CALLOUTS = [
    ("Leg Top", (18.7, 36.41), (23.26, 36.18), (31.63, 30.72)),
    ("Torso Top", (44.74, 37.2), (38.42, 36.64), (34.51, 35.06)),
    ("Head top", (42.7, 33.47), (38.42, 33.47), (34.6, 32.02)),
    ("Torso Under", (16.47, 29.55), (19.07, 28.95), (28.0, 28.01)),
    ("Head Under", (17.49, 24.51), (20.47, 25.45), (28.09, 27.36)),
    ("Leg Under", (44.09, 27.17), (41.86, 26.52), (32.93, 22.84)),
    ("Room", (66.6, 23.02), (63.26, 22.28), (55.44, 19.48)),
    ("Under Bed", (63.53, 16.12), (58.14, 17.19), (52.74, 18.22)),
]

FONT = "Arial, Liberation Sans, sans-serif"


def xs(series):
    return [p[0] for p in series]


def ys(series):
    return [p[1] for p in series]


fig = go.Figure()

fig.add_trace(go.Scatter(x=xs(HEAD_UNDER), y=ys(HEAD_UNDER), name="T head under", mode="lines",
                         line=dict(color="#339966", width=3)))
fig.add_trace(go.Scatter(x=xs(TORSO_UNDER), y=ys(TORSO_UNDER), name="T torso under", mode="markers",
                         marker=dict(symbol="x-thin", size=7, color="#000080",
                                     line=dict(color="#000080", width=1.6))))
fig.add_trace(go.Scatter(x=xs(TORSO_TOP), y=ys(TORSO_TOP), name="T torso top", mode="lines",
                         line=dict(color="#000080", width=1.6)))
fig.add_trace(go.Scatter(x=xs(LEG_UNDER), y=ys(LEG_UNDER), name="v leg under", mode="markers",
                         marker=dict(symbol="cross-thin", size=9, color="#FF6600",
                                     line=dict(color="#FF6600", width=1.6))))
fig.add_trace(go.Scatter(x=xs(LEG_TOP), y=ys(LEG_TOP), name="v leg top", mode="lines",
                         line=dict(color="#FF9900", width=1.6)))
fig.add_trace(go.Scatter(x=xs(HEAD_TOP), y=ys(HEAD_TOP), name="T head top", mode="lines+markers",
                         line=dict(color="#000000", width=1),
                         marker=dict(symbol="square", size=6.5, color="#000000")))
fig.add_trace(go.Scatter(x=xs(ROOM), y=ys(ROOM), name="T room", mode="lines",
                         line=dict(color="#99CC00", width=1)))
fig.add_trace(go.Scatter(x=xs(UNDER_BED), y=ys(UNDER_BED), name="T under bed", mode="lines",
                         line=dict(color="#993333", width=1)))

annotations = []
for label, (tx, ty), (ax_, ay_), (hx, hy) in CALLOUTS:
    annotations.append(dict(x=tx, y=ty, xref="x", yref="y", text=label, showarrow=False,
                            font=dict(family=FONT, size=16, color="#000000")))
    annotations.append(dict(x=hx, y=hy, xref="x", yref="y", ax=ax_, ay=ay_, axref="x", ayref="y",
                            text="", showarrow=True, arrowhead=2, arrowsize=1.3, arrowwidth=1.3,
                            arrowcolor="#000000"))

fig.update_layout(
    width=1156, height=720,
    margin=dict(l=65, r=1, t=66, b=118, autoexpand=False),
    paper_bgcolor="white", plot_bgcolor="white",
    title=dict(text="<b>Temperature Bed 1</b>", x=0.5, xref="container", xanchor="center",
               y=1 - 18 / 720, yref="container", yanchor="middle",
               font=dict(family=FONT, size=16, color="#000000")),
    font=dict(family=FONT, size=15, color="#000000"),
    showlegend=True,
    legend=dict(orientation="h", x=0.509, xanchor="center", y=-0.198, yanchor="middle",
                itemwidth=38,
                font=dict(family=FONT, size=15, color="#000000"), bgcolor="rgba(0,0,0,0)"),
    annotations=annotations,
    shapes=[dict(type="rect", xref="paper", yref="paper", x0=0, y0=0, x1=1, y1=1,
                 line=dict(color="#808080", width=1), layer="below")],
)

fig.update_xaxes(range=[0, 101.4], tickvals=X_TICKS, ticks="outside", ticklen=5, tickcolor="#000000",
                 showline=True, linecolor="#000000", linewidth=1, showgrid=False, zeroline=False,
                 tickfont=dict(family=FONT, size=16),
                 title=dict(text="<b>Time (h)</b>", font=dict(family=FONT, size=16), standoff=16))
fig.update_yaxes(range=[15, 40], tickvals=Y_TICKS, ticks="outside", ticklen=5, tickcolor="#000000",
                 showline=True, linecolor="#000000", linewidth=1, showgrid=False, zeroline=False,
                 tickfont=dict(family=FONT, size=16), ticklabelstandoff=5,
                 title=dict(text="<b>Temperature (° C)</b>", font=dict(family=FONT, size=16), standoff=5))

fig.write_html("out.html", config={"displayModeBar": False},
               post_script="document.body.style.margin='0';")
